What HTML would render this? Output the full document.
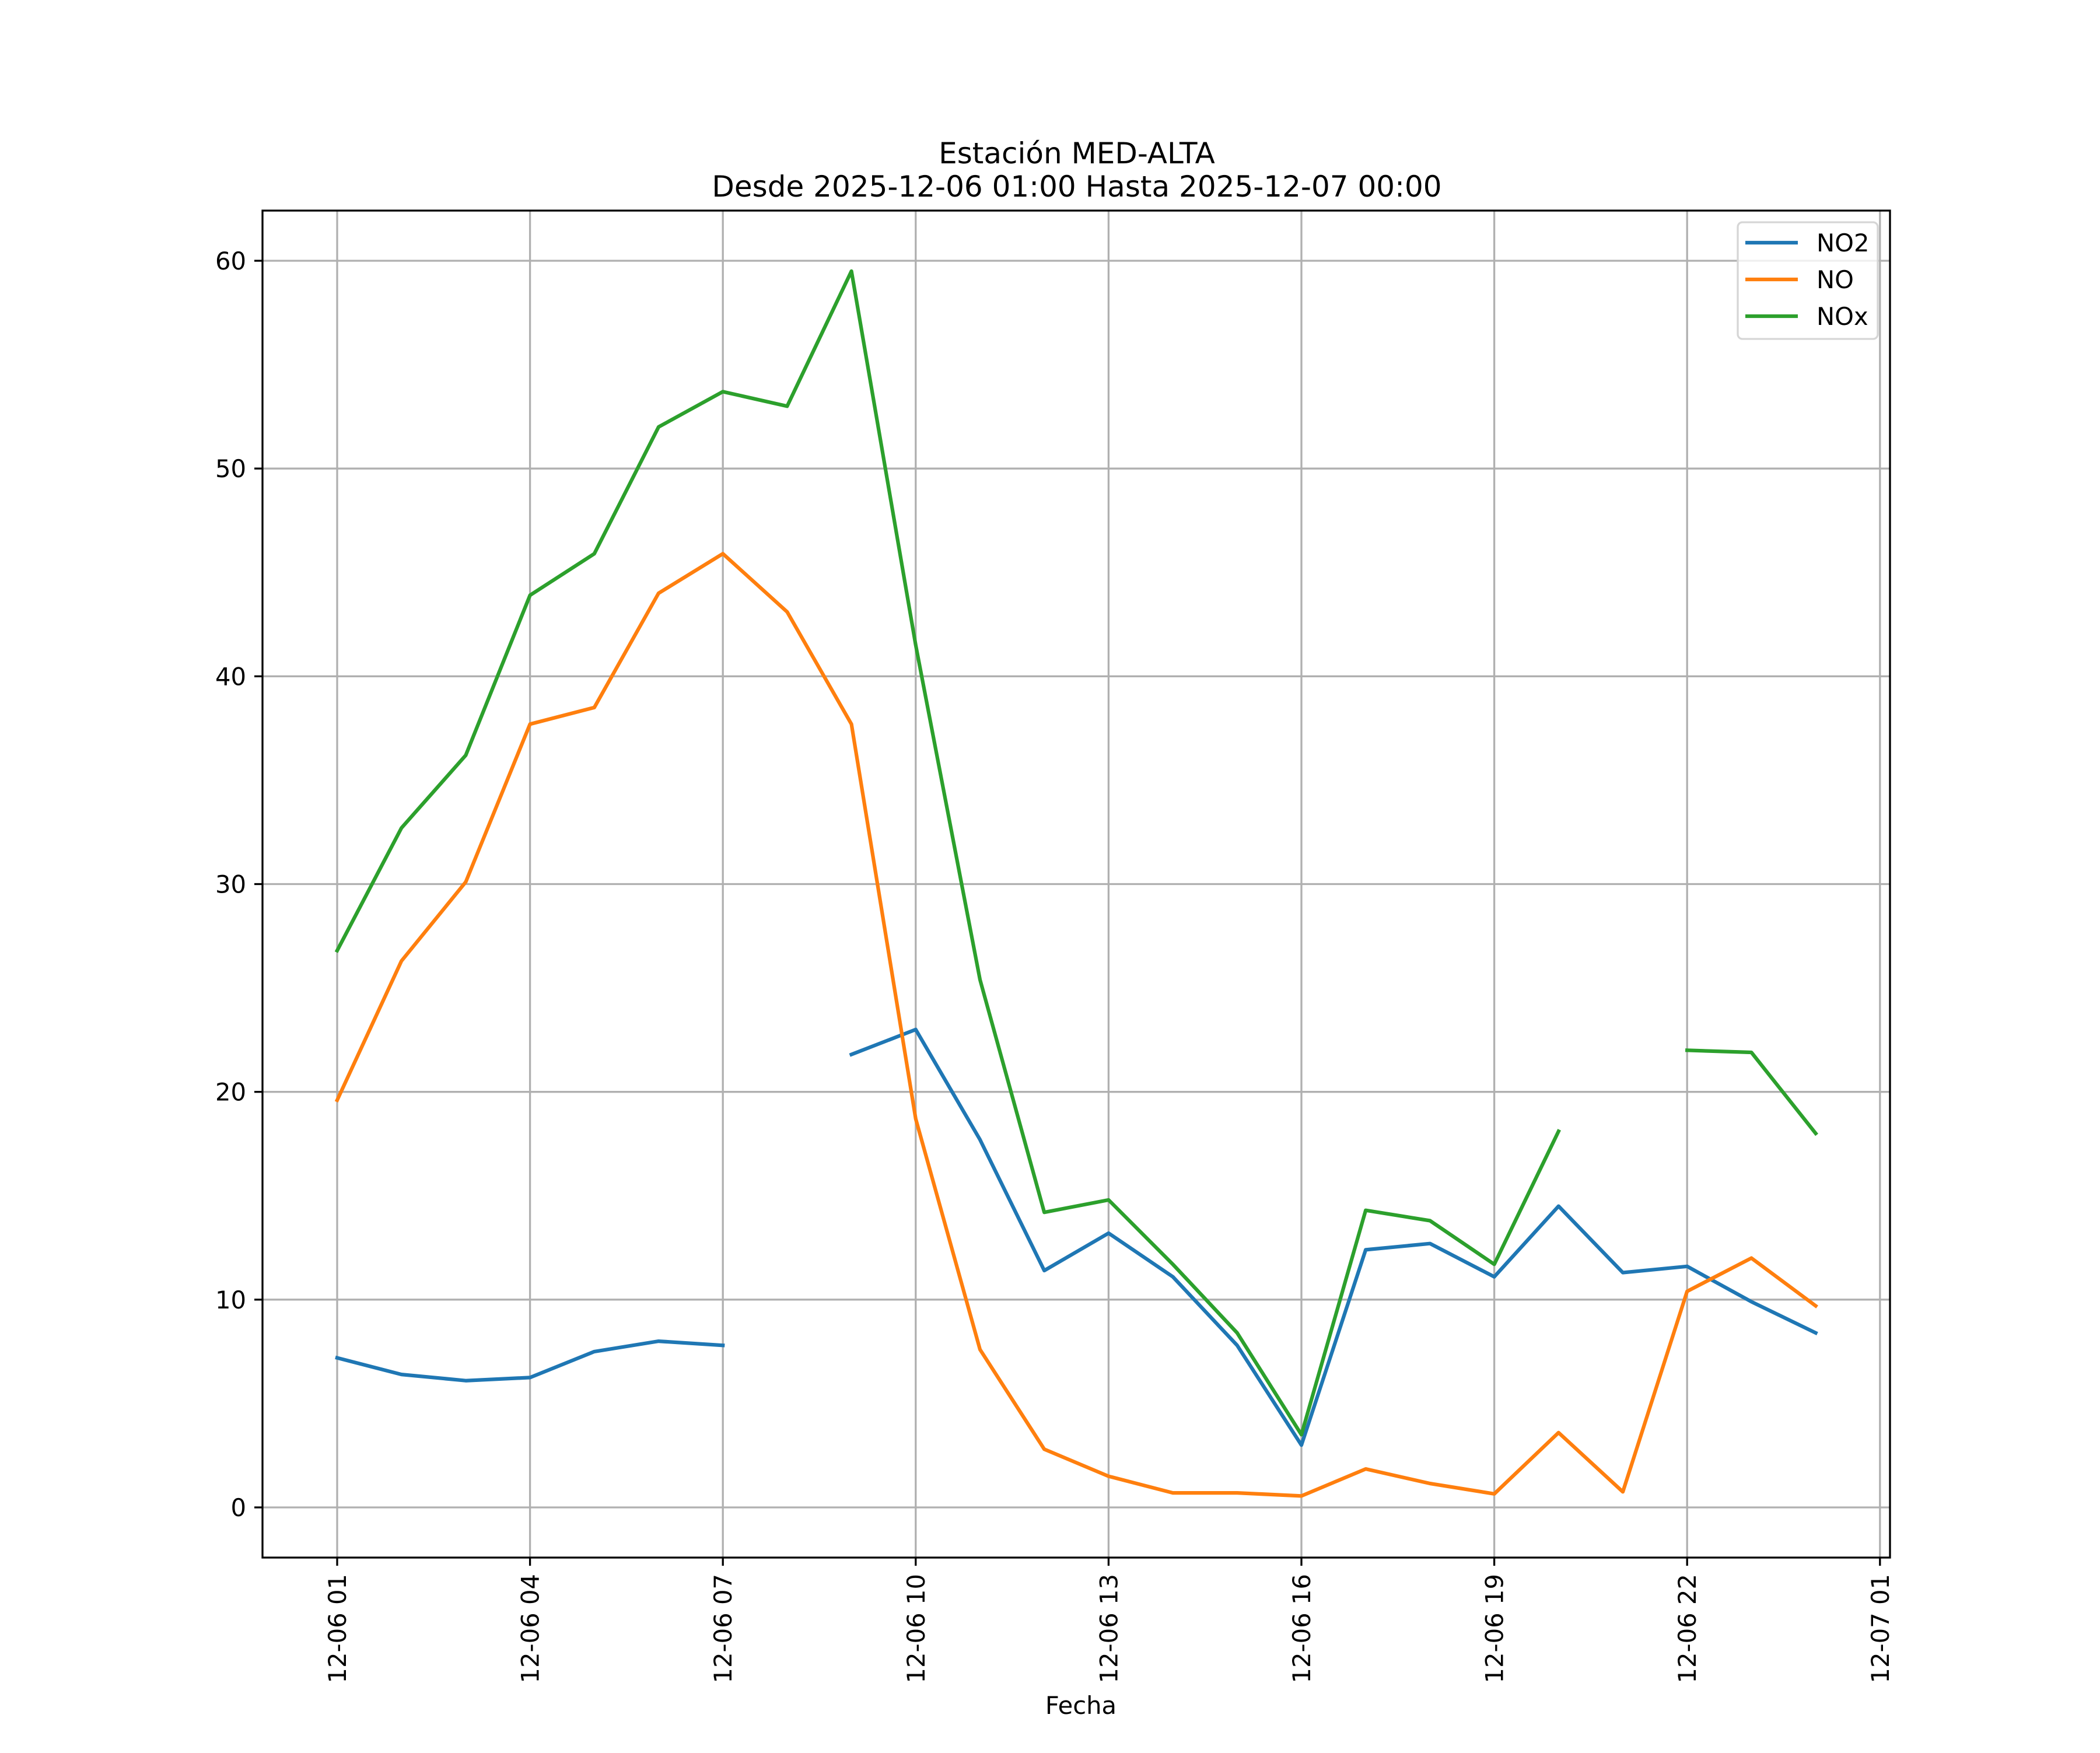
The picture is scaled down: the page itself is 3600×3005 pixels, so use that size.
<!DOCTYPE html>
<html><head><meta charset="utf-8"><style>
html,body{margin:0;padding:0;background:#fff}
svg text{font-family:"DejaVu Sans","Liberation Sans",sans-serif;fill:#000}
</style></head><body>
<svg id="chart" width="3600" height="3000" xmlns="http://www.w3.org/2000/svg">
<rect x="0" y="0" width="3600" height="3000" fill="#fff"/>
<text x="1846" y="280" font-size="50" text-anchor="middle">Estación MED-ALTA</text>
<text x="1846" y="337" font-size="50" text-anchor="middle">Desde 2025-12-06 01:00 Hasta 2025-12-07 00:00</text>
<g id="grid"></g>
<g id="series"></g>
<rect x="450" y="361" width="2790" height="2309" fill="none" stroke="#000" stroke-width="3.3"/>
<g id="ticks"></g>
<text x="1853" y="2938" font-size="41.7" text-anchor="middle">Fecha</text>
<g>
<rect x="2979" y="381" width="240" height="200" rx="8" fill="#fff" fill-opacity="0.8" stroke="#d6d6d6" stroke-width="3.3"/>
<line x1="2992" y1="416" x2="3082" y2="416" stroke="#1f77b4" stroke-width="6.25"/>
<text x="3114" y="431" font-size="41.7">NO2</text>
<line x1="2992" y1="479" x2="3082" y2="479" stroke="#ff7f0e" stroke-width="6.25"/>
<text x="3114" y="494" font-size="41.7">NO</text>
<line x1="2992" y1="542" x2="3082" y2="542" stroke="#2ca02c" stroke-width="6.25"/>
<text x="3114" y="557" font-size="41.7">NOx</text>
</g>
</svg>
<script>
const hours = [1,2,3,4,5,6,7,8,9,10,11,12,13,14,15,16,17,18,19,20,21,22,23,24];
const no2 = [7.2,6.4,6.1,6.25,7.5,8.0,7.8,null,21.8,23.0,17.7,11.4,13.2,11.1,7.8,3.0,12.4,12.7,11.1,14.5,11.3,11.6,9.9,8.4];
const no = [19.6,26.3,30.1,37.7,38.5,44.0,45.9,43.1,37.7,18.7,7.6,2.8,1.5,0.7,0.7,0.55,1.85,1.15,0.65,3.6,0.75,10.4,12.0,9.7];
const nox = [26.8,32.7,36.2,43.9,45.9,52.0,53.7,53.0,59.5,41.5,25.4,14.2,14.8,11.7,8.4,3.5,14.3,13.8,11.7,18.1,null,22.0,21.9,18.0];
const yTicks = [0,10,20,30,40,50,60];
const xTickHours = [1,4,7,10,13,16,19,22,25];
const xTickLabels = ["12-06 01","12-06 04","12-06 07","12-06 10","12-06 13","12-06 16","12-06 19","12-06 22","12-07 01"];

const NS="http://www.w3.org/2000/svg";
const X0=578, XH=110.2, Y0=2584, YU=(2584-447)/60;
function xs(h){return X0+(h-1)*XH;}
function ys(v){return Y0-v*YU;}
function mk(tag,attrs,parent){const e=document.createElementNS(NS,tag);for(const k in attrs)e.setAttribute(k,attrs[k]);parent.appendChild(e);return e;}
const grid=document.getElementById('grid'), ticks=document.getElementById('ticks'), ser=document.getElementById('series');
yTicks.forEach(v=>{
  const g=mk('line',{x1:450,x2:3240,y1:ys(v),y2:ys(v),stroke:'#b0b0b0','stroke-width':3.3},grid);
  
  
  const t=mk('line',{x1:436,x2:450,y1:ys(v),y2:ys(v),stroke:'#000','stroke-width':3.3},ticks);
  
  
  const l=mk('text',{x:422,y:ys(v)+15,'font-size':41.7,'text-anchor':'end'},ticks);
  l.textContent=v;
  
  
});
xTickHours.forEach((h,i)=>{
  const g=mk('line',{x1:xs(h),x2:xs(h),y1:361,y2:2670,stroke:'#b0b0b0','stroke-width':3.3},grid);
  
  
  const t=mk('line',{x1:xs(h),x2:xs(h),y1:2670,y2:2684,stroke:'#000','stroke-width':3.3},ticks);
  
  
  const l=mk('text',{x:0,y:0,'font-size':41.7,'text-anchor':'end',transform:`translate(${xs(h)+15},2698) rotate(-90)`},ticks);
  l.textContent=xTickLabels[i];
  
  
});
function drawSeries(vals,color,name){
  let d='',pen=false;
  vals.forEach((v,i)=>{
    if(v===null){pen=false;return;}
    d+=(pen?'L':'M')+xs(hours[i]).toFixed(1)+','+ys(v).toFixed(1)+' ';pen=true;
  });
  const p=mk('path',{d:d,fill:'none',stroke:color,'stroke-width':6.25,'stroke-linejoin':'round','stroke-linecap':'square'},ser);
  
  
}
drawSeries(no2,'#1f77b4','no2-line');
drawSeries(no,'#ff7f0e','no-line');
drawSeries(nox,'#2ca02c','nox-line');
</script>
</body></html>
